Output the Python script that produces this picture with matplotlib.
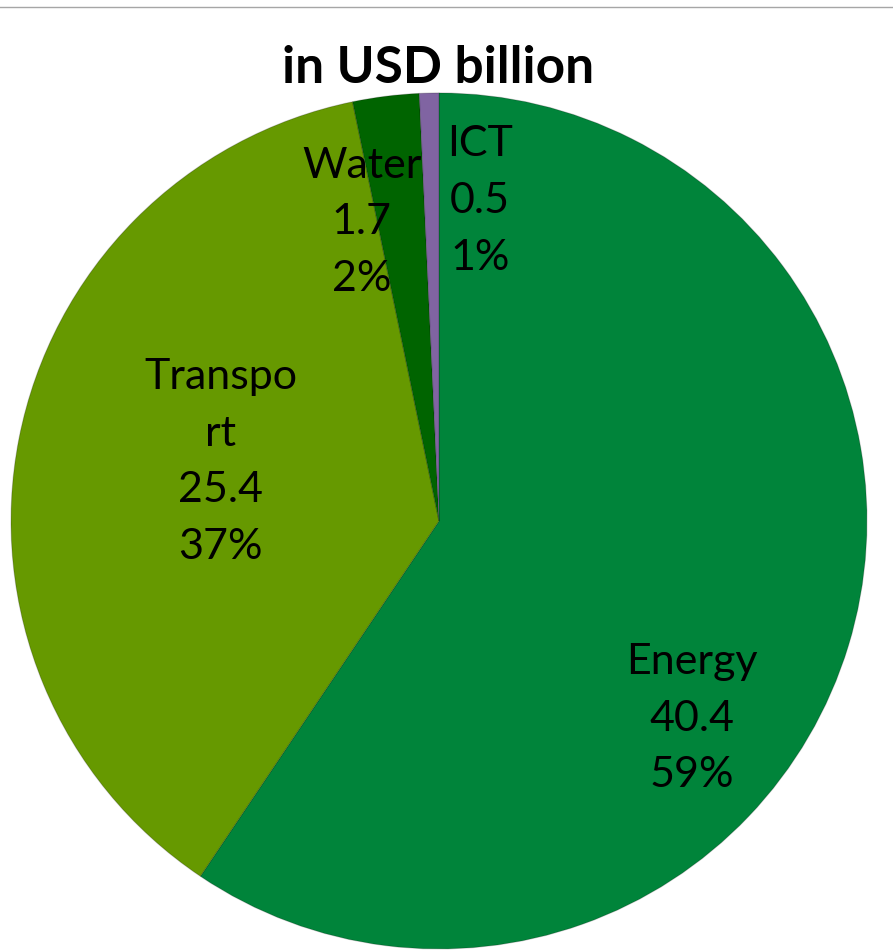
import matplotlib
matplotlib.use("Agg")
from matplotlib import pyplot as plt
from matplotlib.lines import Line2D

sectors = ['Energy', 'Transport', 'Water', 'ICT']
label_names = ['Energy', 'Transpo\nrt', 'Water', 'ICT']
values = [40.4, 25.4, 1.7, 0.5]
colors = ['#00843a', '#669900', '#006400', '#8064a2']

# label spots inside the pie (pie radius = 1)
label_pos = [(0.59, -0.46), (-0.51, 0.14), (-0.18, 0.70), (0.095, 0.75)]

plt.rcParams['font.family'] = ['Lato', 'DejaVu Sans']

fig = plt.figure(figsize=(8.93, 9.53), dpi=100)

# pie axes: centre around (439, 522) px, radius 428 px
ax = fig.add_axes([0.0123, 0.0032, 0.9586, 0.8982])
ax.pie(values, colors=colors, startangle=90, counterclock=False,
       radius=1, wedgeprops={'edgecolor': (0, 0, 0, 0.2), 'linewidth': 0.8})
ax.set_xlim(-1.0, 1.0)
ax.set_ylim(-1.0, 1.0)
ax.set_aspect('equal')

total = sum(values)
for name, v, (lx, ly) in zip(label_names, values, label_pos):
    pct = round(v / total * 100)
    ax.text(lx, ly, '%s\n%.1f\n%d%%' % (name, v, pct), ha='center', va='center',
            fontsize=31, color='black', linespacing=1.6)

fig.text(0.491, 0.928, 'in USD billion', ha='center', va='center',
         fontsize=37, fontweight='bold')

# thin rule along the top edge
fig.add_artist(Line2D([0, 1], [1 - 8 / 953, 1 - 8 / 953], color='#a6a6a6', linewidth=1))

plt.savefig('out.png', dpi=100)
